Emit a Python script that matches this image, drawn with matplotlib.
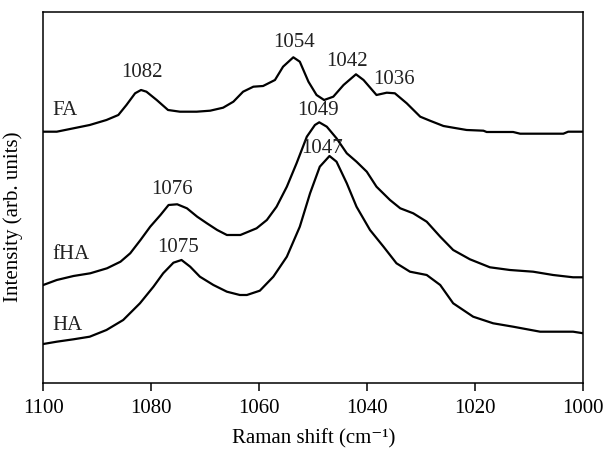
import matplotlib
matplotlib.use("Agg")
import matplotlib.pyplot as plt

plt.rcParams["font.family"] = ["Liberation Serif", "DejaVu Serif"]

# ---- Spectra (Raman shift in cm^-1, intensity in arb. units) ----
fa_x = [1100, 1097.5, 1094.4, 1091.4, 1088.3, 1086.1, 1084.6, 1083.0, 1081.9,
        1080.9, 1079.0, 1076.9, 1074.7, 1071.6, 1069.1, 1066.7, 1064.8, 1063.0,
        1061.1, 1059.3, 1057.1, 1055.6, 1053.7, 1052.5, 1050.9, 1049.4, 1048.0,
        1046.3, 1044.4, 1042.1, 1040.7, 1038.3, 1036.4, 1034.9, 1032.7, 1030.2,
        1028.4, 1025.9, 1024.1, 1021.6, 1018.5, 1017.9, 1013.0, 1011.7, 1003.7,
        1002.8, 1000]
fa_y = [251.6, 251.6, 255, 258.3, 263.3, 268.3, 278.3, 290, 293.3,
        291.6, 283.3, 273.3, 271.6, 271.6, 272.6, 275.6, 281.6, 291.6,
        296.6, 297.3, 303.3, 316.6, 326, 321.6, 301.6, 288.3, 283.3,
        286.6, 298.3, 309, 303.3, 288.3, 290.6, 290, 280, 266.6,
        262.6, 257.3, 255.6, 253.3, 252.6, 251.3, 251.3, 249.6, 249.6,
        251.6, 251.6]

fha_x = [1100, 1097.5, 1094.4, 1091.3, 1088.2, 1085.7, 1083.9, 1082.0, 1080.2,
         1078.3, 1076.8, 1075.2, 1073.4, 1071.5, 1069.7, 1067.8, 1066.0, 1063.5,
         1060.5, 1058.6, 1056.8, 1054.9, 1053.1, 1051.2, 1049.7, 1048.9, 1047.5,
         1045.7, 1043.8, 1042.0, 1040.1, 1038.3, 1035.8, 1033.9, 1031.5, 1029.0,
         1026.5, 1024.1, 1021.0, 1017.3, 1013.6, 1009.3, 1005.6, 1001.9, 1000]
fha_y = [98.3, 103.3, 107.3, 110, 115, 121.6, 130, 143.3, 156.6,
         168.3, 178.3, 179, 175, 166.6, 160, 153.3, 148.3, 148.3,
         155, 163.3, 176.6, 196.6, 220, 246.6, 258.3, 261, 256.6,
         245, 230, 221.6, 211.6, 196.6, 183.3, 175, 170, 161.6,
         146.6, 133.3, 124, 116, 113.3, 111.6, 108.3, 106, 106]

ha_x = [1100, 1097.5, 1094.4, 1091.4, 1088.3, 1085.2, 1082.1, 1079.6, 1077.8,
        1075.9, 1074.4, 1072.8, 1071.0, 1068.5, 1066.0, 1063.6, 1062.3, 1059.9,
        1057.4, 1054.9, 1052.5, 1050.6, 1048.8, 1047.0, 1045.7, 1043.8, 1042.0,
        1039.5, 1037.0, 1034.6, 1032.1, 1029.0, 1026.5, 1024.1, 1020.4, 1016.7,
        1013.0, 1008.0, 1001.9, 1000]
ha_y = [39.3, 41.6, 44, 46.6, 53.3, 63.3, 80, 96.6, 110,
        120.6, 123.3, 116.6, 106.6, 98.3, 91.6, 88.3, 88.3, 92.6,
        106.6, 126.6, 156.6, 190, 216.6, 227.3, 221.6, 200, 176.6,
        153.3, 136.6, 120, 111.6, 108.3, 98.3, 80, 66.6, 60,
        56.6, 51.6, 51.6, 50]

# sample labels (text, x, y) and peak annotations (text, x, y)
sample_labels = [("FA", 1098.4, 272.5), ("fHA", 1098.4, 128.3), ("HA", 1098.4, 57.8)]
peak_labels = [("1082", 1081.8, 310.3), ("1054", 1053.5, 341), ("1042", 1043.7, 321.3),
               ("1036", 1035.0, 303.6), ("1049", 1049.1, 272.6), ("1047", 1048.3, 235),
               ("1076", 1076.2, 193.3), ("1075", 1075.0, 136)]

x_ticks = [1100, 1080, 1060, 1040, 1020, 1000]

fig = plt.figure(figsize=(6.07, 4.55), dpi=100)
ax = fig.add_axes([0.0713, 0.1576, 0.8897, 0.8167])

for xs, ys in [(fa_x, fa_y), (fha_x, fha_y), (ha_x, ha_y)]:
    ax.plot(xs, ys, color="black", linewidth=1.6, solid_joinstyle="round")

for txt, x, y in sample_labels:
    ax.text(x, y, txt, fontsize=15, ha="left", va="center", color="#222222")
for txt, x, y in peak_labels:
    ax.text(x, y, txt, fontsize=15, ha="center", va="center", color="#222222")

ax.set_xlim(1100, 1000)
ax.set_ylim(0, 371.6)
ax.set_xticks(x_ticks)
ax.set_xticklabels([str(t) for t in x_ticks])
ax.set_yticks([])
ax.tick_params(axis="x", direction="out", length=6, width=1.1, labelsize=15,
               colors="black", pad=5)
for s in ax.spines.values():
    s.set_linewidth(1.1)
ax.set_xlabel("Raman shift (cm⁻¹)", fontsize=15, labelpad=8)
ax.set_ylabel("Intensity (arb. units)", fontsize=15)
ax.yaxis.set_label_coords(-0.038, 0.449)

fig.savefig("out.png", dpi=100)
